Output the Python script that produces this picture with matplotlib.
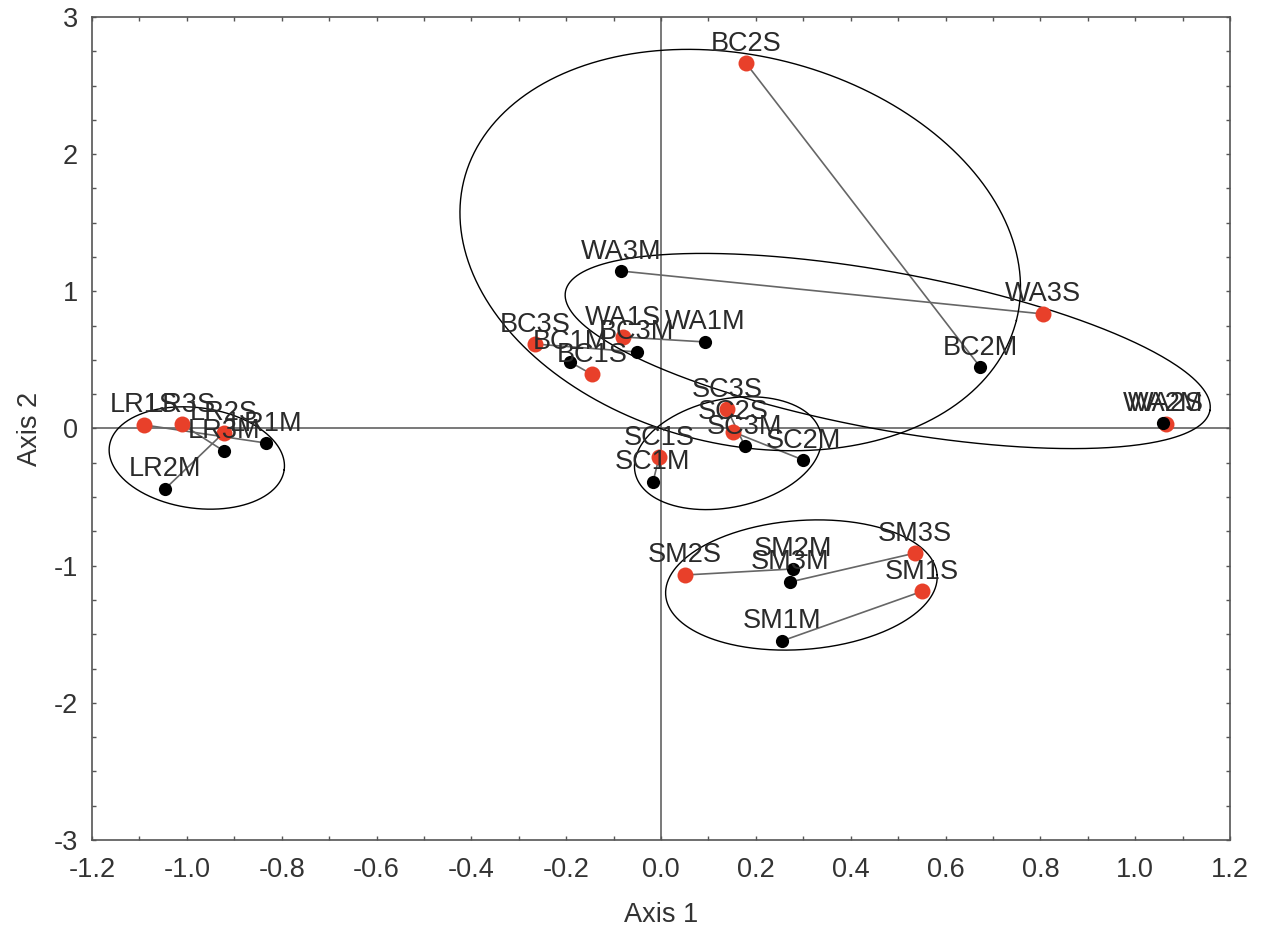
import numpy as np
import matplotlib
matplotlib.use("Agg")
from matplotlib import pyplot as plt
from matplotlib.ticker import MultipleLocator, FormatStrFormatter

plt.rcParams['font.family'] = ['Liberation Sans', 'DejaVu Sans']
plt.rcParams['axes.unicode_minus'] = False

# sample scores (S = red, M = black), same order in both lists
S_NAMES = ["LR1S", "LR2S", "LR3S", "BC1S", "BC2S", "BC3S", "WA1S", "WA2S", "WA3S",
           "SC1S", "SC2S", "SC3S", "SM1S", "SM2S", "SM3S"]
S_X = [-1.090, -0.922, -1.010, -0.146, 0.179, -0.266, -0.080, 1.064, 0.806,
       -0.004, 0.152, 0.139, 0.550, 0.051, 0.536]
S_Y = [0.026, -0.030, 0.030, 0.395, 2.664, 0.616, 0.667, 0.035, 0.835,
       -0.208, -0.025, 0.142, -1.188, -1.068, -0.908]

M_NAMES = ["LR1M", "LR2M", "LR3M", "BC1M", "BC2M", "BC3M", "WA1M", "WA2M", "WA3M",
           "SC1M", "SC2M", "SC3M", "SM1M", "SM2M", "SM3M"]
M_X = [-0.833, -1.046, -0.922, -0.192, 0.673, -0.051, 0.093, 1.059, -0.084,
       -0.017, 0.300, 0.177, 0.255, 0.278, 0.272]
M_Y = [-0.106, -0.441, -0.164, 0.485, 0.448, 0.558, 0.631, 0.040, 1.148,
       -0.390, -0.230, -0.128, -1.549, -1.024, -1.119]

# group ellipses: centre (data), semi-axes (in axis-1 units), angle on screen (deg)
ELL_NAMES = ["LR", "BC", "WA", "SC", "SM"]
ELL_CX = [-0.979, 0.167, 0.478, 0.141, 0.296]
ELL_CY = [-0.215, 1.301, 0.565, -0.180, -1.141]
ELL_A = [0.186, 0.601, 0.691, 0.200, 0.287]
ELL_B = [0.106, 0.409, 0.166, 0.114, 0.136]
ELL_ANGLE = [-7.7, -14.3, -10.45, 12.0, 4.3]

XLIM = (-1.2, 1.2)
YLIM = (-3, 3)
FS = 19.5


def main():
    fig = plt.figure(figsize=(12.62, 9.30), dpi=100)
    ax = fig.add_axes([0.0729, 0.0968, 0.9018, 0.8849])
    ax.set_xlim(*XLIM)
    ax.set_ylim(*YLIM)

    ax.axhline(0, color="#555555", linewidth=1.1, zorder=1)
    ax.axvline(0, color="#555555", linewidth=1.1, zorder=1)

    # S-M connecting lines
    for sx, sy, mx, my in zip(S_X, S_Y, M_X, M_Y):
        ax.plot([sx, mx], [sy, my], color="#666666", linewidth=1.2, zorder=2)

    # ellipses, drawn so the angle holds on screen
    pos = ax.get_position()
    w_px = pos.width * fig.get_figwidth()
    h_px = pos.height * fig.get_figheight()
    k = (h_px / (YLIM[1] - YLIM[0])) / (w_px / (XLIM[1] - XLIM[0]))
    t = np.linspace(0, 2 * np.pi, 400)
    for cx, cy, a, b, ang in zip(ELL_CX, ELL_CY, ELL_A, ELL_B, ELL_ANGLE):
        th = np.radians(ang)
        ex = cx + a * np.cos(t) * np.cos(th) - b * np.sin(t) * np.sin(th)
        ey = cy + (a * np.cos(t) * np.sin(th) + b * np.sin(t) * np.cos(th)) / k
        ax.plot(ex, ey, color="black", linewidth=1.0, zorder=3)

    ax.plot(S_X, S_Y, "o", color="#e8402a", markersize=11.5, markeredgewidth=0, zorder=4)
    ax.plot(M_X, M_Y, "o", color="black", markersize=9.5, markeredgewidth=0, zorder=5)

    for name, x, y in list(zip(S_NAMES, S_X, S_Y)) + list(zip(M_NAMES, M_X, M_Y)):
        ax.annotate(name, (x, y), xytext=(0, 9), textcoords="offset points",
                    ha="center", va="baseline", fontsize=FS, color="#2a2a2a", zorder=6)

    ax.xaxis.set_major_locator(MultipleLocator(0.2))
    ax.xaxis.set_minor_locator(MultipleLocator(0.1))
    ax.xaxis.set_major_formatter(FormatStrFormatter('%.1f'))
    ax.yaxis.set_major_locator(MultipleLocator(1))
    ax.yaxis.set_minor_locator(MultipleLocator(0.25))
    ax.tick_params(which="both", direction="in", top=True, right=True,
                   length=3, width=1, color="#555555", labelsize=FS,
                   labelcolor="#333333")
    ax.tick_params(axis="x", pad=12)
    ax.tick_params(axis="y", pad=10)
    for sp in ax.spines.values():
        sp.set_color("#555555")
        sp.set_linewidth(1.2)

    ax.set_xlabel("Axis 1", fontsize=FS, color="#333333", labelpad=14)
    ax.set_ylabel("Axis 2", fontsize=FS, color="#333333", labelpad=8)

    fig.savefig("out.png", dpi=100)


if __name__ == '__main__':
    main()
